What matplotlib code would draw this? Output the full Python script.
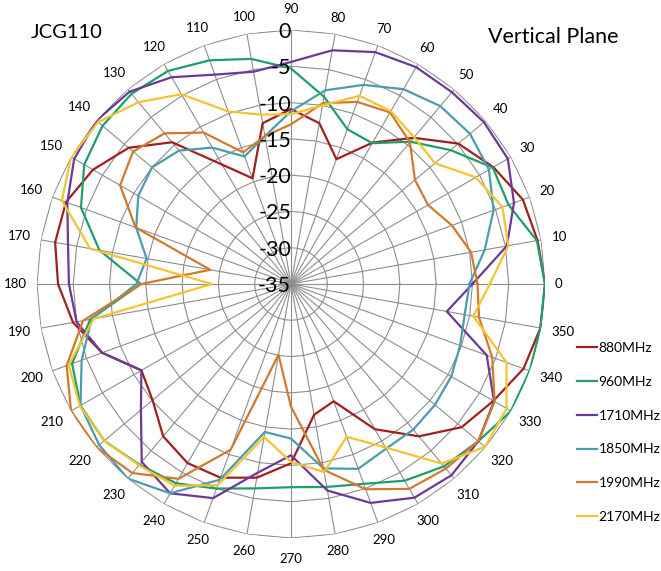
import numpy as np
import matplotlib.pyplot as plt

# angles of the radar spokes (deg), values in dB
angles = list(range(0, 360, 10))
db_levels = [-35, -30, -25, -20, -15, -10, -5, 0]

series_names = ['880MHz', '960MHz', '1710MHz', '1850MHz', '1990MHz', '2170MHz']
colors = ['#a0201e', '#1f9e6c', '#6c3a96', '#4a9cb0', '#d27a2c', '#f4c430']

db_880 = [0, -0.5, -1.0, -2.8, -4.9, -8.7, -12.5, -16.7, -12.5, -10.9, -12.5, -19.5,
          -16.0, -9.5, -5.8, -3.5, -2.0, -2.0, -2.9, -4.5, -7.3, -11.2, -10.1, -7.6,
          -6.5, -6.6, -7.9, -10.3, -16.7, -17.8, -11.9, -7.6, -4.3, -2.8, -0.9, -0.1]
db_960 = [0, -0.6, -3.1, -2.9, -6.3, -9.4, -12.6, -12.3, -8.8, -5.3, -3.5, -2.2,
          -1.1, -0.8, -1.1, -2.1, -4.2, -8.2, -14.3, -6.9, -2.9, -1.5, -1.4, -2.5,
          -3.3, -5.0, -6.4, -7.0, -6.6, -5.7, -3.7, -2.2, -1.3, 0, 0, -0.1]
db_1710 = [-10.0, -4.8, -2.3, -0.5, -0.3, -0.5, -0.5, -1.0, -2.3, -4.4, -5.3, -4.3,
           -2.1, -0.4, 0, -0.5, -2.2, -3.8, -4.4, -5.0, -7.3, -11.2, -8.0, -3.0,
           -1.7, -3.6, -8.6, -11.4, -6.1, -2.9, -1.0, -0.6, -1.3, -2.7, -6.3, -13.2]
db_1850 = [-10.4, -7.9, -5.3, -3.5, -2.8, -3.0, -4.0, -5.8, -7.9, -11.2, -14.3, -16.3,
           -13.3, -11.0, -10.0, -10.7, -12.3, -14.8, -13.7, -7.1, -4.3, -1.5, -0.5, 0,
           -1.7, -6.3, -14.3, -13.7, -9.2, -7.9, -8.8, -8.8, -9.1, -9.5, -10.2, -10.7]
db_1990 = [-9.3, -9.8, -11.4, -13.2, -12.7, -9.5, -7.7, -8.3, -9.7, -13.0, -14.3, -15.7,
           -10.9, -7.9, -6.6, -7.8, -12.2, -23.7, -14.4, -5.9, -2.1, 0, 0, -1.0,
           -4.0, -10.7, -25.1, -18.1, -9.0, -4.9, -2.4, -1.8, -1.3, -2.6, -5.5, -8.7]
db_2170 = [-7.6, -4.6, -4.0, -5.6, -9.1, -8.6, -7.5, -7.4, -10.0, -11.6, -11.3, -9.7,
           -4.8, -2.3, -0.3, 0, -1.4, -6.9, -24.1, -7.4, -2.4, -1.4, -1.4, -2.4,
           -2.9, -5.5, -13.6, -10.5, -8.7, -12.6, -9.0, -2.7, -0.1, -0.7, -3.4, -9.5]

all_series = [db_880, db_960, db_1710, db_1850, db_1990, db_2170]

plt.rcParams['font.family'] = ['Lato', 'DejaVu Sans']

W, H = 661, 571
fig = plt.figure(figsize=(W / 100, H / 100), dpi=100)
# centre of the chart at (291, 284) px, 0 dB ring radius 254 px
cx, cy, R = 291 / W, 1 - 284 / H, 254
ax = fig.add_axes([cx - R / W, cy - R / H, 2 * R / W, 2 * R / H], projection='polar')
ax.set_theta_zero_location('E')
ax.set_ylim(db_levels[0], db_levels[-1])
ax.grid(False)
ax.set_xticks([])
ax.set_yticks([])
ax.spines['polar'].set_visible(False)
ax.patch.set_alpha(0)

theta = np.deg2rad(angles)
theta_c = np.append(theta, theta[0])
grid_col = '#8e8e8e'

# polygon gridlines like an Excel radar chart
for lev in db_levels[1:]:
    ax.plot(theta_c, [lev] * len(theta_c), color=grid_col, lw=0.8, zorder=1)
for t in theta:
    ax.plot([t, t], [db_levels[0], db_levels[-1]], color=grid_col, lw=0.8, zorder=1)

for name, vals, col in zip(series_names, all_series, colors):
    ax.plot(theta_c, vals + vals[:1], color=col, lw=1.6, label=name, zorder=3)

# value axis labels along the 90 deg spoke
for lev in db_levels:
    ax.text(np.pi / 2, lev, str(lev), ha='right', va='center_baseline', fontsize=15.5,
            color='black', zorder=4)

# angle labels outside the outer ring (gap grows with label size)
db_per_px = 35 / R
for a, t in zip(angles, theta):
    w = 7.5 * len(str(a))
    gap = 10 + 0.5 * w * abs(np.cos(t)) + 5 * abs(np.sin(t))
    if a in (90, 270):
        gap = 21
    ax.text(t, gap * db_per_px, str(a), ha='center', va='center', fontsize=9.5)

fig.text(31 / W, 1 - 33 / H, 'JCG110', fontsize=14.5, va='center', ha='left')
fig.text(488 / W, 1 - 37 / H, 'Vertical Plane', fontsize=15.5, va='center', ha='left')

fig.legend(loc='upper left', bbox_to_anchor=(577 / W, 1 - 342 / H), frameon=False,
           fontsize=10, handlelength=1.44, handletextpad=0.12, labelspacing=1.57,
           borderaxespad=0, borderpad=0)

fig.savefig('out.png', dpi=100)
